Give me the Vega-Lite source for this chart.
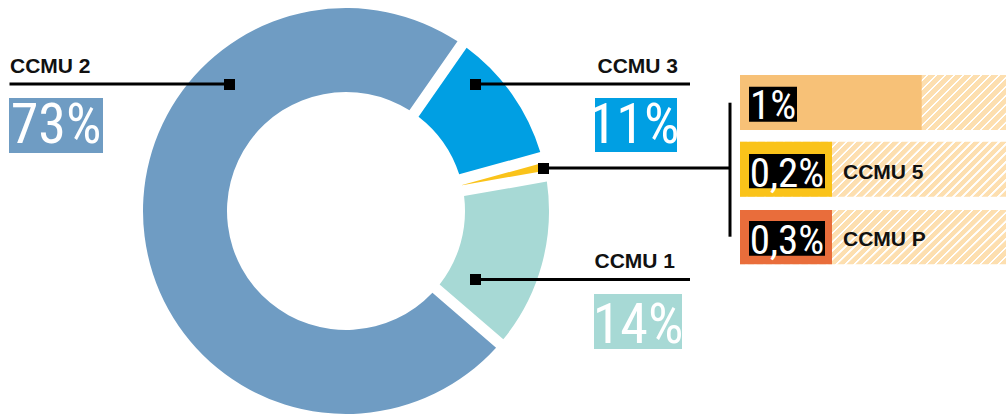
{
  "$schema": "https://vega.github.io/schema/vega-lite/v6.json",
  "width": 1006,
  "height": 417,
  "padding": 0,
  "background": "white",
  "params": [
    {"name": "hachure", "value": {"gradient": "linear", "x1": 0, "y1": 0, "x2": 1.157, "y2": 0.239, "stops": [
      {"offset": 0, "color": "#fddfb0"}, {"offset": 0.02, "color": "#fddfb0"}, {"offset": 0.021, "color": "#ffffff"}, {"offset": 0.027, "color": "#ffffff"},
      {"offset": 0.028, "color": "#fddfb0"}, {"offset": 0.048, "color": "#fddfb0"}, {"offset": 0.049, "color": "#ffffff"}, {"offset": 0.055, "color": "#ffffff"},
      {"offset": 0.056, "color": "#fddfb0"}, {"offset": 0.076, "color": "#fddfb0"}, {"offset": 0.077, "color": "#ffffff"}, {"offset": 0.083, "color": "#ffffff"},
      {"offset": 0.084, "color": "#fddfb0"}, {"offset": 0.104, "color": "#fddfb0"}, {"offset": 0.105, "color": "#ffffff"}, {"offset": 0.111, "color": "#ffffff"},
      {"offset": 0.112, "color": "#fddfb0"}, {"offset": 0.132, "color": "#fddfb0"}, {"offset": 0.133, "color": "#ffffff"}, {"offset": 0.139, "color": "#ffffff"},
      {"offset": 0.14, "color": "#fddfb0"}, {"offset": 0.16, "color": "#fddfb0"}, {"offset": 0.161, "color": "#ffffff"}, {"offset": 0.167, "color": "#ffffff"},
      {"offset": 0.168, "color": "#fddfb0"}, {"offset": 0.188, "color": "#fddfb0"}, {"offset": 0.189, "color": "#ffffff"}, {"offset": 0.195, "color": "#ffffff"},
      {"offset": 0.196, "color": "#fddfb0"}, {"offset": 0.216, "color": "#fddfb0"}, {"offset": 0.217, "color": "#ffffff"}, {"offset": 0.223, "color": "#ffffff"},
      {"offset": 0.224, "color": "#fddfb0"}, {"offset": 0.244, "color": "#fddfb0"}, {"offset": 0.245, "color": "#ffffff"}, {"offset": 0.251, "color": "#ffffff"},
      {"offset": 0.252, "color": "#fddfb0"}, {"offset": 0.272, "color": "#fddfb0"}, {"offset": 0.273, "color": "#ffffff"}, {"offset": 0.279, "color": "#ffffff"},
      {"offset": 0.28, "color": "#fddfb0"}, {"offset": 0.3, "color": "#fddfb0"}, {"offset": 0.301, "color": "#ffffff"}, {"offset": 0.307, "color": "#ffffff"},
      {"offset": 0.308, "color": "#fddfb0"}, {"offset": 0.328, "color": "#fddfb0"}, {"offset": 0.329, "color": "#ffffff"}, {"offset": 0.335, "color": "#ffffff"},
      {"offset": 0.336, "color": "#fddfb0"}, {"offset": 0.356, "color": "#fddfb0"}, {"offset": 0.357, "color": "#ffffff"}, {"offset": 0.363, "color": "#ffffff"},
      {"offset": 0.364, "color": "#fddfb0"}, {"offset": 0.384, "color": "#fddfb0"}, {"offset": 0.385, "color": "#ffffff"}, {"offset": 0.391, "color": "#ffffff"},
      {"offset": 0.392, "color": "#fddfb0"}, {"offset": 0.412, "color": "#fddfb0"}, {"offset": 0.413, "color": "#ffffff"}, {"offset": 0.419, "color": "#ffffff"},
      {"offset": 0.42, "color": "#fddfb0"}, {"offset": 0.44, "color": "#fddfb0"}, {"offset": 0.441, "color": "#ffffff"}, {"offset": 0.447, "color": "#ffffff"},
      {"offset": 0.448, "color": "#fddfb0"}, {"offset": 0.468, "color": "#fddfb0"}, {"offset": 0.469, "color": "#ffffff"}, {"offset": 0.475, "color": "#ffffff"},
      {"offset": 0.476, "color": "#fddfb0"}, {"offset": 0.496, "color": "#fddfb0"}, {"offset": 0.497, "color": "#ffffff"}, {"offset": 0.503, "color": "#ffffff"},
      {"offset": 0.504, "color": "#fddfb0"}, {"offset": 0.524, "color": "#fddfb0"}, {"offset": 0.525, "color": "#ffffff"}, {"offset": 0.531, "color": "#ffffff"},
      {"offset": 0.532, "color": "#fddfb0"}, {"offset": 0.552, "color": "#fddfb0"}, {"offset": 0.553, "color": "#ffffff"}, {"offset": 0.559, "color": "#ffffff"},
      {"offset": 0.56, "color": "#fddfb0"}, {"offset": 0.58, "color": "#fddfb0"}, {"offset": 0.581, "color": "#ffffff"}, {"offset": 0.587, "color": "#ffffff"},
      {"offset": 0.588, "color": "#fddfb0"}, {"offset": 0.608, "color": "#fddfb0"}, {"offset": 0.609, "color": "#ffffff"}, {"offset": 0.615, "color": "#ffffff"},
      {"offset": 0.616, "color": "#fddfb0"}, {"offset": 0.636, "color": "#fddfb0"}, {"offset": 0.637, "color": "#ffffff"}, {"offset": 0.643, "color": "#ffffff"},
      {"offset": 0.644, "color": "#fddfb0"}, {"offset": 0.664, "color": "#fddfb0"}, {"offset": 0.665, "color": "#ffffff"}, {"offset": 0.671, "color": "#ffffff"},
      {"offset": 0.672, "color": "#fddfb0"}, {"offset": 0.692, "color": "#fddfb0"}, {"offset": 0.693, "color": "#ffffff"}, {"offset": 0.699, "color": "#ffffff"},
      {"offset": 0.7, "color": "#fddfb0"}, {"offset": 0.72, "color": "#fddfb0"}, {"offset": 0.721, "color": "#ffffff"}, {"offset": 0.727, "color": "#ffffff"},
      {"offset": 0.728, "color": "#fddfb0"}, {"offset": 0.748, "color": "#fddfb0"}, {"offset": 0.749, "color": "#ffffff"}, {"offset": 0.755, "color": "#ffffff"},
      {"offset": 0.756, "color": "#fddfb0"}, {"offset": 0.776, "color": "#fddfb0"}, {"offset": 0.777, "color": "#ffffff"}, {"offset": 0.783, "color": "#ffffff"},
      {"offset": 0.784, "color": "#fddfb0"}, {"offset": 0.804, "color": "#fddfb0"}, {"offset": 0.805, "color": "#ffffff"}, {"offset": 0.811, "color": "#ffffff"},
      {"offset": 0.812, "color": "#fddfb0"}, {"offset": 0.832, "color": "#fddfb0"}, {"offset": 0.833, "color": "#ffffff"}, {"offset": 0.839, "color": "#ffffff"},
      {"offset": 0.84, "color": "#fddfb0"}, {"offset": 0.86, "color": "#fddfb0"}, {"offset": 0.861, "color": "#ffffff"}, {"offset": 0.867, "color": "#ffffff"},
      {"offset": 0.868, "color": "#fddfb0"}, {"offset": 0.888, "color": "#fddfb0"}, {"offset": 0.889, "color": "#ffffff"}, {"offset": 0.895, "color": "#ffffff"},
      {"offset": 0.896, "color": "#fddfb0"}, {"offset": 0.916, "color": "#fddfb0"}, {"offset": 0.917, "color": "#ffffff"}, {"offset": 0.923, "color": "#ffffff"},
      {"offset": 0.924, "color": "#fddfb0"}, {"offset": 0.944, "color": "#fddfb0"}, {"offset": 0.945, "color": "#ffffff"}, {"offset": 0.951, "color": "#ffffff"},
      {"offset": 0.952, "color": "#fddfb0"}, {"offset": 0.972, "color": "#fddfb0"}, {"offset": 0.973, "color": "#ffffff"}, {"offset": 0.979, "color": "#ffffff"},
      {"offset": 0.98, "color": "#fddfb0"}, {"offset": 1, "color": "#fddfb0"}
    ]}}
  ],
  "config": {
    "view": {"stroke": null},
    "locale": {"number": {"decimal": ",", "thousands": " ", "grouping": [3], "currency": ["", " €"], "percent": "%"}},
    "style": {
      "titre": {"font": "Liberation Sans", "fontWeight": "bold", "fontSize": 21, "baseline": "alphabetic"},
      "pourcent": {"font": "Roboto Condensed, Liberation Sans Narrow, DejaVu Sans Condensed, sans-serif", "align": "center", "baseline": "alphabetic"}
    }
  },
  "datasets": {
    "donut": [
      {"categorie": "CCMU 3", "part": 0.11, "ordre": 1},
      {"categorie": "CCMU 4, 5 et P", "part": 0.015, "ordre": 2},
      {"categorie": "CCMU 1", "part": 0.14, "ordre": 3},
      {"categorie": "CCMU 2", "part": 0.73, "ordre": 4}
    ],
    "detail": [
      {"categorie": "CCMU 4", "part": 0.01},
      {"categorie": "CCMU 5", "part": 0.002},
      {"categorie": "CCMU P", "part": 0.003}
    ]
  },
  "layer": [
    {
      "data": {"name": "donut"},
      "mark": {"type": "arc", "innerRadius": 119, "outerRadius": 203, "padAngle": 0.047},
      "encoding": {
        "theta": {"field": "part", "type": "quantitative", "stack": true, "scale": {"range": [0.609, 6.892]}},
        "order": {"field": "ordre", "type": "quantitative"},
        "color": {"field": "categorie", "type": "nominal", "legend": null,
          "scale": {"domain": ["CCMU 3", "CCMU 4, 5 et P", "CCMU 1", "CCMU 2"], "range": ["#009fe3", "#fac31a", "#a7d9d5", "#6f9cc3"]}},
        "x": {"datum": 346, "type": "quantitative", "scale": {"domain": [0, 1006], "nice": false, "zero": false}, "axis": null},
        "y": {"datum": 211, "type": "quantitative", "scale": {"domain": [0, 417], "nice": false, "zero": false, "reverse": true}, "axis": null}
      }
    },
    {
      "data": {"name": "donut"},
      "transform": [{"filter": "datum.categorie === 'CCMU 2'"}],
      "layer": [
        {"mark": {"type": "rule", "strokeWidth": 3, "color": "#000"}, "encoding": {"x": {"datum": 9.5}, "x2": {"datum": 229.5}, "y": {"datum": 84}}},
        {"mark": {"type": "point", "shape": "square", "filled": true, "size": 121, "color": "#000", "opacity": 1}, "encoding": {"x": {"datum": 229.5}, "y": {"datum": 84.5}}},
        {"mark": {"type": "text", "style": "titre", "align": "left", "color": "#111"}, "encoding": {"text": {"field": "categorie"}, "x": {"datum": 10}, "y": {"datum": 72.5}}},
        {"mark": {"type": "rect", "color": "#6f9cc3"}, "encoding": {"x": {"datum": 9}, "x2": {"datum": 103}, "y": {"datum": 98}, "y2": {"datum": 153}}},
        {"mark": {"type": "text", "style": "pourcent", "fontSize": 56, "color": "#ffffff"}, "encoding": {"text": {"field": "part", "type": "quantitative", "format": ".1~%"}, "x": {"datum": 56}, "y": {"datum": 143.3}}}
      ]
    },
    {
      "data": {"name": "donut"},
      "transform": [{"filter": "datum.categorie === 'CCMU 3'"}],
      "layer": [
        {"mark": {"type": "rule", "strokeWidth": 3, "color": "#000"}, "encoding": {"x": {"datum": 475.5}, "x2": {"datum": 690}, "y": {"datum": 84}}},
        {"mark": {"type": "point", "shape": "square", "filled": true, "size": 121, "color": "#000", "opacity": 1}, "encoding": {"x": {"datum": 475.5}, "y": {"datum": 84.5}}},
        {"mark": {"type": "text", "style": "titre", "align": "right", "color": "#111"}, "encoding": {"text": {"field": "categorie"}, "x": {"datum": 678}, "y": {"datum": 72.5}}},
        {"mark": {"type": "rect", "color": "#009fe3"}, "encoding": {"x": {"datum": 595}, "x2": {"datum": 677}, "y": {"datum": 98}, "y2": {"datum": 152}}},
        {"mark": {"type": "text", "style": "pourcent", "fontSize": 56, "color": "#ffffff"}, "encoding": {"text": {"field": "part", "type": "quantitative", "format": ".1~%"}, "x": {"datum": 634}, "y": {"datum": 142.5}}}
      ]
    },
    {
      "data": {"name": "donut"},
      "transform": [{"filter": "datum.categorie === 'CCMU 1'"}],
      "layer": [
        {"mark": {"type": "rule", "strokeWidth": 3, "color": "#000"}, "encoding": {"x": {"datum": 475.5}, "x2": {"datum": 690}, "y": {"datum": 279.5}}},
        {"mark": {"type": "point", "shape": "square", "filled": true, "size": 121, "color": "#000", "opacity": 1}, "encoding": {"x": {"datum": 475.5}, "y": {"datum": 279.5}}},
        {"mark": {"type": "text", "style": "titre", "align": "right", "color": "#111"}, "encoding": {"text": {"field": "categorie"}, "x": {"datum": 675}, "y": {"datum": 268}}},
        {"mark": {"type": "rect", "color": "#a7d9d5"}, "encoding": {"x": {"datum": 594}, "x2": {"datum": 682}, "y": {"datum": 294}, "y2": {"datum": 349}}},
        {"mark": {"type": "text", "style": "pourcent", "fontSize": 56, "color": "#ffffff"}, "encoding": {"text": {"field": "part", "type": "quantitative", "format": ".1~%"}, "x": {"datum": 638}, "y": {"datum": 342.5}}}
      ]
    },
    {
      "data": {"name": "donut"},
      "transform": [{"filter": "datum.categorie === 'CCMU 4, 5 et P'"}],
      "layer": [
        {"mark": {"type": "rule", "strokeWidth": 3, "color": "#000"}, "encoding": {"x": {"datum": 543.5}, "x2": {"datum": 730}, "y": {"datum": 168}}},
        {"mark": {"type": "rule", "strokeWidth": 3, "color": "#000"}, "encoding": {"x": {"datum": 730}, "y": {"datum": 102.7}, "y2": {"datum": 236.7}}},
        {"mark": {"type": "point", "shape": "square", "filled": true, "size": 121, "color": "#000", "opacity": 1}, "encoding": {"x": {"datum": 543.5}, "y": {"datum": 168.5}}}
      ]
    },
    {
      "data": {"name": "detail"},
      "transform": [{"filter": "datum.categorie === 'CCMU 4'"}],
      "layer": [
        {"mark": {"type": "rect", "color": {"expr": "hachure"}}, "encoding": {"x": {"datum": 740}, "x2": {"datum": 1006}, "y": {"datum": 75}, "y2": {"datum": 130}}},
        {"mark": {"type": "rect", "color": "#f7c177"}, "encoding": {"x": {"datum": 740}, "x2": {"datum": 921.7}, "y": {"datum": 75}, "y2": {"datum": 130}}},
        {"mark": {"type": "rect", "color": "#000"}, "encoding": {"x": {"datum": 749}, "x2": {"datum": 797}, "y": {"datum": 86.7}, "y2": {"datum": 121.7}}},
        {"mark": {"type": "text", "style": "pourcent", "fontSize": 41, "color": "#ffffff"}, "encoding": {"text": {"field": "part", "type": "quantitative", "format": ".1~%"}, "x": {"datum": 773}, "y": {"datum": 119.3}}}
      ]
    },
    {
      "data": {"name": "detail"},
      "transform": [{"filter": "datum.categorie === 'CCMU 5'"}],
      "layer": [
        {"mark": {"type": "rect", "color": {"expr": "hachure"}}, "encoding": {"x": {"datum": 740}, "x2": {"datum": 1006}, "y": {"datum": 141.7}, "y2": {"datum": 196.7}}},
        {"mark": {"type": "rect", "color": "#fac31a"}, "encoding": {"x": {"datum": 740}, "x2": {"datum": 832}, "y": {"datum": 141.7}, "y2": {"datum": 196.7}}},
        {"mark": {"type": "rect", "color": "#000"}, "encoding": {"x": {"datum": 749}, "x2": {"datum": 825}, "y": {"datum": 154}, "y2": {"datum": 188.3}}},
        {"mark": {"type": "text", "style": "pourcent", "fontSize": 41, "color": "#ffffff"}, "encoding": {"text": {"field": "part", "type": "quantitative", "format": ".1~%"}, "x": {"datum": 787}, "y": {"datum": 186.7}}},
        {"mark": {"type": "text", "style": "titre", "align": "left", "color": "#111"}, "encoding": {"text": {"field": "categorie"}, "x": {"datum": 843}, "y": {"datum": 179.3}}}
      ]
    },
    {
      "data": {"name": "detail"},
      "transform": [{"filter": "datum.categorie === 'CCMU P'"}],
      "layer": [
        {"mark": {"type": "rect", "color": {"expr": "hachure"}}, "encoding": {"x": {"datum": 740}, "x2": {"datum": 1006}, "y": {"datum": 210}, "y2": {"datum": 264.3}}},
        {"mark": {"type": "rect", "color": "#e96d3b"}, "encoding": {"x": {"datum": 740}, "x2": {"datum": 832}, "y": {"datum": 210}, "y2": {"datum": 264.3}}},
        {"mark": {"type": "rect", "color": "#000"}, "encoding": {"x": {"datum": 749}, "x2": {"datum": 825}, "y": {"datum": 221}, "y2": {"datum": 255.7}}},
        {"mark": {"type": "text", "style": "pourcent", "fontSize": 41, "color": "#ffffff"}, "encoding": {"text": {"field": "part", "type": "quantitative", "format": ".1~%"}, "x": {"datum": 787}, "y": {"datum": 254.3}}},
        {"mark": {"type": "text", "style": "titre", "align": "left", "color": "#111"}, "encoding": {"text": {"field": "categorie"}, "x": {"datum": 843}, "y": {"datum": 246}}}
      ]
    }
  ]
}
